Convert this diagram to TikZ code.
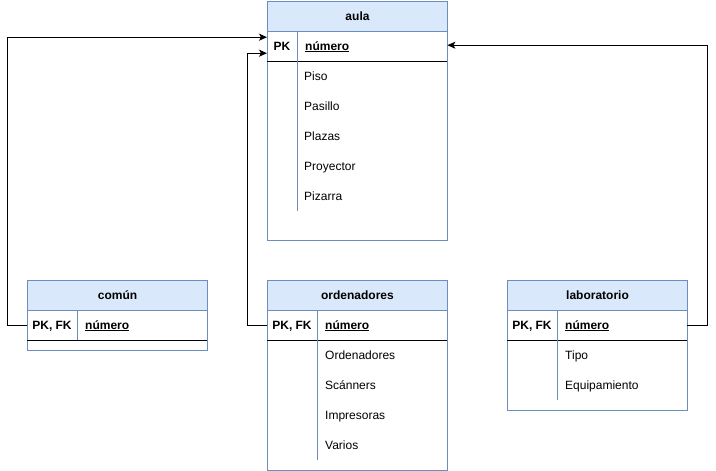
\documentclass[tikz,border=0pt]{standalone}
\usepackage{fontspec}
\setmainfont{Liberation Sans}
\usetikzlibrary{arrows.meta}

\definecolor{headfill}{HTML}{DAE8FC}
\definecolor{headline}{HTML}{6C8EBF}

\tikzset{
  tablebox/.style={draw=headline, fill=white, line width=1pt, minimum width=180pt,
                   inner sep=0pt, anchor=north west},
  tablehead/.style={tablebox, fill=headfill, minimum height=30pt,
                    font=\fontsize{12}{14}\selectfont\bfseries},
  keyrow/.style={minimum width=180pt, minimum height=30pt, inner sep=0pt, anchor=north west},
  keytext/.style={font=\fontsize{12}{14}\selectfont\bfseries, inner sep=0pt,
                  text height=10pt, text depth=2pt},
  attrtext/.style={font=\fontsize{12}{14}\selectfont, anchor=west, inner sep=0pt,
                   text height=10pt, text depth=2pt},
  keyline/.style={line width=1pt, black},
  divider/.style={line width=1pt, headline},
  fk/.style={-{Stealth[length=8pt,width=7pt,inset=2pt]}, line width=1pt}
}

\begin{document}
\begin{tikzpicture}[x=1pt, y=-1pt]
  \useasboundingbox (0,0) rectangle (716,471);

  % aula
  \node[tablebox, minimum height=239pt] (aula) at (267,1) {};
  \node[tablehead] (aula-head) at (267,1) {aula};
  \node[keyrow] (aula-key) at (267,31) {};
  \node[keytext] (aula-pk) at (282,46) {PK};
  \node[keytext, anchor=west] (aula-num) at (305,46) {\underline{número}};
  \draw[keyline] (aula-key.south west) -- (aula-key.south east);
  \draw[divider] (297,31) -- (297,211);
  \foreach \attr [count=\i] in {Piso,Pasillo,Plazas,Proyector,Pizarra}
    \node[attrtext] (aula-a\i) at (304,{46+30*\i}) {\attr};

  % comun
  \node[tablebox, minimum height=70pt] (comun) at (27,280) {};
  \node[tablehead] (comun-head) at (27,280) {común};
  \node[keyrow] (comun-key) at (27,310) {};
  \node[keytext] (comun-pk) at (52,325) {PK, FK};
  \node[keytext, anchor=west] (comun-num) at (85,325) {\underline{número}};
  \draw[keyline] (comun-key.south west) -- (comun-key.south east);
  \draw[divider] (77,310) -- (77,340);

  % ordenadores
  \node[tablebox, minimum height=190pt] (ord) at (267,280) {};
  \node[tablehead] (ord-head) at (267,280) {ordenadores};
  \node[keyrow] (ord-key) at (267,310) {};
  \node[keytext] (ord-pk) at (292,325) {PK, FK};
  \node[keytext, anchor=west] (ord-num) at (325,325) {\underline{número}};
  \draw[keyline] (ord-key.south west) -- (ord-key.south east);
  \draw[divider] (317,310) -- (317,460);
  \foreach \attr [count=\i] in {Ordenadores,Scánners,Impresoras,Varios}
    \node[attrtext] (ord-a\i) at (325,{325+30*\i}) {\attr};

  % laboratorio
  \node[tablebox, minimum height=130pt] (lab) at (507,280) {};
  \node[tablehead] (lab-head) at (507,280) {laboratorio};
  \node[keyrow] (lab-key) at (507,310) {};
  \node[keytext] (lab-pk) at (532,325) {PK, FK};
  \node[keytext, anchor=west] (lab-num) at (565,325) {\underline{número}};
  \draw[keyline] (lab-key.south west) -- (lab-key.south east);
  \draw[divider] (557,310) -- (557,400);
  \foreach \attr [count=\i] in {Tipo,Equipamiento}
    \node[attrtext] (lab-a\i) at (565,{325+30*\i}) {\attr};

  % foreign keys
  \draw[fk] (comun-key.west) -- ++(-20,0) |- ([yshift=9pt]aula-key.west);
  \draw[fk] (ord-key.west) -- ++(-20,0) |- ([yshift=-7pt]aula-key.west);
  \draw[fk] (lab-key.east) -- ++(20,0) |- ([yshift=1pt]aula-key.east);
\end{tikzpicture}
\end{document}
